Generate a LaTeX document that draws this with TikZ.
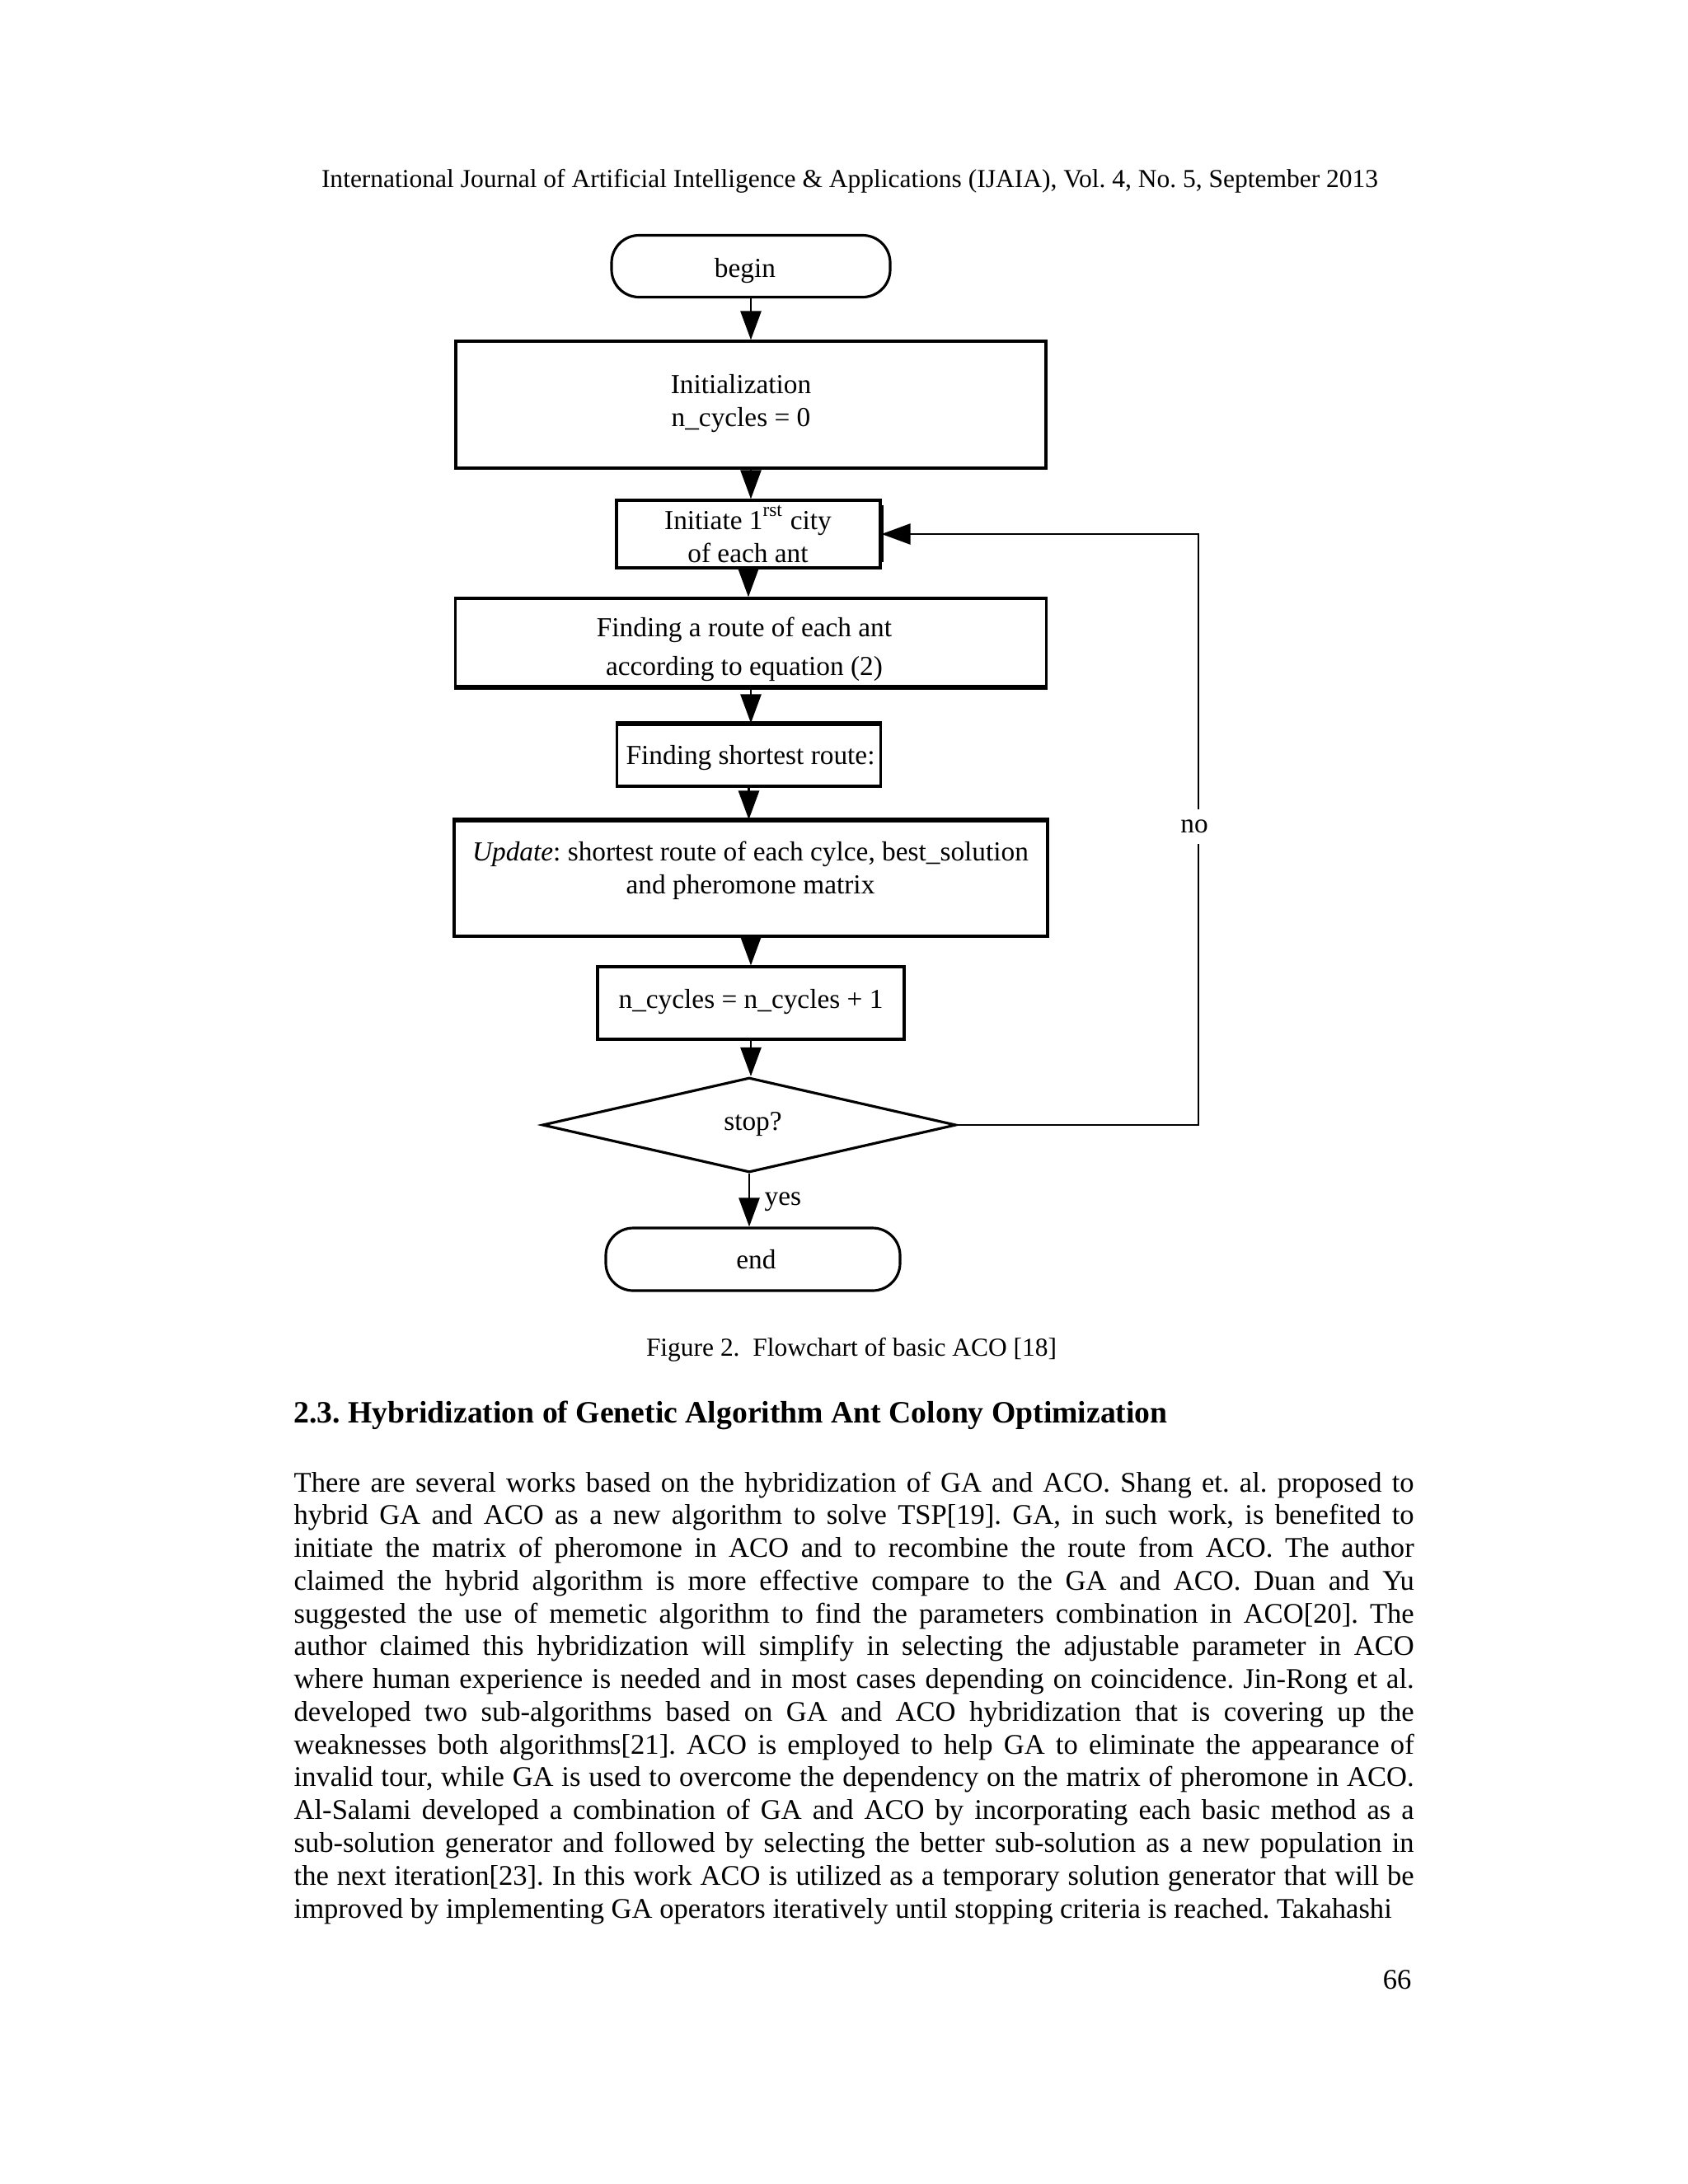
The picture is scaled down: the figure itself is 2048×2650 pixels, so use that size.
\documentclass[tikz,border=0pt]{standalone}
\usepackage{fontspec}
\setmainfont{Liberation Serif}
\usetikzlibrary{arrows.meta,shapes.geometric}
\newlength\myfitlen
\newcommand\myfit[2]{\settowidth\myfitlen{\fontsize{10}{12}\selectfont #2}\pgfmathsetmacro\myfsz{10*#1/\myfitlen}\fontsize{\myfsz}{\myfsz}\selectfont #2}
\newcommand\fcfont{\fontsize{10}{12}\selectfont}
\newcommand\bodyfont{\fontsize{\bodysz}{12}\selectfont}
\begin{document}
\frenchspacing
\settowidth\myfitlen{\fontsize{10}{12}\selectfont improved by implementing GA operators iteratively until stopping criteria is reached. Takahashi}%
\pgfmathsetmacro\bodysz{10*399.6/\myfitlen}%
\begin{tikzpicture}[x=0.3pt,y=-0.3pt,
  box/.style={draw, line width=0.95pt, inner sep=0pt},
  term/.style={box, rounded corners=10pt},
  txt/.style={inner sep=0pt, align=center, font=\fcfont},
  arr/.style={line width=0.8pt, -{Triangle[length=10.5pt,width=7.5pt]}},
  bodyline/.style={anchor=base west, inner sep=0pt}]
\fill[white] (0,0) rectangle (2048,2650);
\useasboundingbox (0,0) rectangle (2048,2650);

% header
\node[anchor=base, inner sep=0pt] (header) at (1031,227) {\myfit{384.6}{International Journal of Artificial Intelligence \& Applications (IJAIA), Vol. 4, No. 5, September 2013}};

% flowchart texts
\node[txt] (tbegin) at (904,329) {begin};
\node[txt] (tinit) at (899,490) {Initialization\\n\_cycles = 0};
\node[txt] (tinitiate) at (907.5,648) {Initiate 1\raisebox{1pt}{\textsuperscript{rst}} city\\of each ant};
\node[txt] (troute) at (903,788) {Finding a route of each ant\\[2pt]according to equation (2)};
\node[txt, anchor=west] (tshort) at (759,920) {Finding shortest route:};
\node[txt] (tupdate) at (910.5,1056) {\textit{Update}: shortest route of each cylce, best\_solution\\and pheromone matrix};
\node[txt] (tncyc) at (911,1216) {n\_cycles = n\_cycles + 1};
\node[txt] (tend) at (917.5,1528.5) {end};

% flowchart boxes
\node[term, minimum width=101.4pt, minimum height=22.5pt] (begin) at (911,323) {};
\node[box, minimum width=214.8pt, minimum height=46.2pt] (init) at (911,491) {};
\node[box, minimum width=96pt, minimum height=24.6pt] (initiate) at (908,648) {};
\draw[line width=1.2pt] (1070,613) -- (1070,682);
\node[box, minimum width=215.1pt, minimum height=32.1pt] (route) at (911,779.5) {};
\draw[line width=1.5pt] (route.south west) -- (route.south east);
\node[box, minimum width=96pt, minimum height=22.5pt] (short) at (908.5,916.5) {};
\draw[line width=1.4pt] (short.north west) -- (short.north east);
\node[box, minimum width=216pt, minimum height=42pt] (update) at (911,1066) {};
\draw[line width=1.4pt] (update.north west) -- (update.north east);
\node[box, minimum width=111.6pt, minimum height=26.4pt] (ncyc) at (911,1217) {};
\node[draw, diamond, line width=0.95pt, inner sep=0pt, aspect=4.35, minimum width=150.6pt, minimum height=34.5pt] (stop) at (909,1365) {};
\node[txt] (tstop) at (913.5,1364) {stop?};
\node[term, minimum width=107.1pt, minimum height=22.8pt] (end) at (913.5,1528) {};

% connectors
\draw[arr] (begin.south) -- (init.north);
\draw[arr] (init.south) -- (init.south |- initiate.north);
\draw[arr] (initiate.south) -- (initiate.south |- route.north);
\draw[arr] (route.south) -- (route.south |- short.north);
\draw[arr] (short.south) -- (short.south |- update.north);
\draw[arr] (update.south) -- (update.south |- ncyc.north);
\draw[arr] (ncyc.south) -- (ncyc.south |- stop.north);
\draw[arr] (stop.south) -- (stop.south |- end.north);
\coordinate (fb) at (1454,1365);
\draw[arr] (stop.east) -- (fb) |- (initiate.east);
\node[fill=white, inner xsep=2pt, inner ysep=4pt, font=\fcfont] (no) at (1449,1003) {no};
\node[anchor=west, inner sep=0pt, font=\fcfont] (yes) at (927,1458) {yes};

% caption and heading
\node[anchor=base, inner sep=0pt] (caption) at (1033,1645) {\myfit{149.4}{Figure 2.\ \ Flowchart of basic ACO [18]}};
\node[anchor=base west, inner sep=0pt] (heading) at (356,1726) {\myfit{318}{\bfseries 2.3. Hybridization of Genetic Algorithm Ant Colony Optimization}};

% body
\node[bodyline] (l1) at (356,1810) {\bodyfont\makebox[407.7pt][s]{There are several works based on the hybridization of GA and ACO. Shang et. al. proposed to}};
\node[bodyline] (l2) at (356,1849.8) {\bodyfont\makebox[407.7pt][s]{hybrid GA and ACO as a new algorithm to solve TSP[19]. GA, in such work, is benefited to}};
\node[bodyline] (l3) at (356,1889.5) {\bodyfont\makebox[407.7pt][s]{initiate the matrix of pheromone in ACO and to recombine the route from ACO. The author}};
\node[bodyline] (l4) at (356,1929.3) {\bodyfont\makebox[407.7pt][s]{claimed the hybrid algorithm is more effective compare to the GA and ACO. Duan and Yu}};
\node[bodyline] (l5) at (356,1969.1) {\bodyfont\makebox[407.7pt][s]{suggested the use of memetic algorithm to find the parameters combination in ACO[20]. The}};
\node[bodyline] (l6) at (356,2008.9) {\bodyfont\makebox[407.7pt][s]{author claimed this hybridization will simplify in selecting the adjustable parameter in ACO}};
\node[bodyline] (l7) at (356,2048.6) {\bodyfont\makebox[407.7pt][s]{where human experience is needed and in most cases depending on coincidence. Jin-Rong et al.}};
\node[bodyline] (l8) at (356,2088.4) {\bodyfont\makebox[407.7pt][s]{developed two sub-algorithms based on GA and ACO hybridization that is covering up the}};
\node[bodyline] (l9) at (356,2128.2) {\bodyfont\makebox[407.7pt][s]{weaknesses both algorithms[21]. ACO is employed to help GA to eliminate the appearance of}};
\node[bodyline] (l10) at (356,2167.9) {\bodyfont\makebox[407.7pt][s]{invalid tour, while GA is used to overcome the dependency on the matrix of pheromone in ACO.}};
\node[bodyline] (l11) at (356,2207.7) {\bodyfont\makebox[407.7pt][s]{Al-Salami developed a combination of GA and ACO by incorporating each basic method as a}};
\node[bodyline] (l12) at (356,2247.5) {\bodyfont\makebox[407.7pt][s]{sub-solution generator and followed by selecting the better sub-solution as a new population in}};
\node[bodyline] (l13) at (356,2287.2) {\bodyfont\makebox[407.7pt][s]{the next iteration[23]. In this work ACO is utilized as a temporary solution generator that will be}};
\node[bodyline] (l14) at (356,2327) {\bodyfont improved by implementing GA operators iteratively until stopping criteria is reached. Takahashi};

\node[anchor=base east, inner sep=0pt] (pagenum) at (1713,2413) {\bodyfont 66};
\end{tikzpicture}
\end{document}
